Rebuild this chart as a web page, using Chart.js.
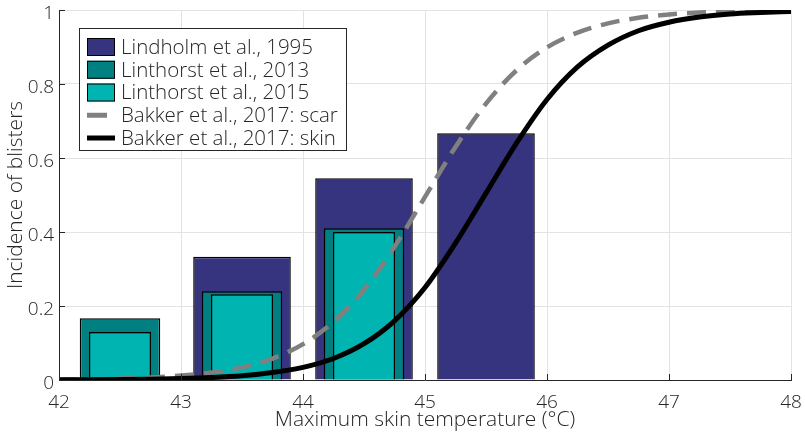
<!DOCTYPE html>
<html>
<head>
<meta charset="utf-8">
<script src="https://cdn.jsdelivr.net/npm/chart.js@4/dist/chart.umd.min.js"></script>
<style>
  html, body { margin: 0; padding: 0; background: #fff; }
  #wrap { width: 805px; height: 433px; }
</style>
</head>
<body>
<div id="wrap"><canvas id="blisterChart"></canvas></div>
<script>
// bins (centre of each 1 degree bin) and incidence per study
const binCentres = [42.5, 43.5, 44.5, 45.5];
const lindholm1995 = [null, 0.333, 0.545, 0.667];
const linthorst2013 = [0.167, 0.24, 0.41, null];
const linthorst2015 = [0.13, 0.232, 0.4, null];

const temps = [42, 42.25, 42.5, 42.75, 43, 43.25, 43.5, 43.75, 44, 44.25, 44.5, 44.75,
  45, 45.25, 45.5, 45.75, 46, 46.25, 46.5, 46.75, 47, 47.25, 47.5, 47.75, 48];
const scarCurve = [0.001, 0.002, 0.004, 0.007, 0.012, 0.02, 0.034, 0.058, 0.097, 0.157, 0.244, 0.36,
  0.495, 0.63, 0.747, 0.837, 0.899, 0.939, 0.964, 0.979, 0.988, 0.993, 0.996, 0.997, 0.998];
const skinCurve = [0.0004, 0.0007, 0.0012, 0.0021, 0.0038, 0.0066, 0.0114, 0.02, 0.034, 0.058, 0.098, 0.16,
  0.25, 0.37, 0.505, 0.64, 0.758, 0.846, 0.905, 0.944, 0.967, 0.981, 0.989, 0.993, 0.996];

const xTicks = [42, 43, 44, 45, 46, 47, 48];

(() => {
  'use strict'

  const ctx = document.getElementById('blisterChart')
  const fontFamily = "'Open Sans', 'Noto Sans', sans-serif"
  const textColor = '#262626'

  const pairs = (xs, ys) => xs.map((x, i) => ({ x: x, y: ys[i] }))

  // legend drawn in a box inside the plot area
  const boxLegend = {
    id: 'boxLegend',
    afterDraw(chart) {
      const c = chart.ctx
      const area = chart.chartArea
      const left = area.left + 20
      const top = area.top + 18
      const rowH = 22.75
      const w = 267
      const h = 122
      c.save()
      c.fillStyle = '#ffffff'
      c.fillRect(left, top, w, h)
      c.strokeStyle = textColor
      c.lineWidth = 1
      c.strokeRect(left + 0.5, top + 0.5, w, h)
      c.font = '300 20.5px ' + fontFamily
      c.textBaseline = 'middle'
      chart.data.datasets.forEach((ds, i) => {
        const cy = top + 19 + i * rowH
        const sx = left + 8
        if (ds.type === 'bar') {
          c.fillStyle = ds.backgroundColor
          c.fillRect(sx, cy - 9, 28, 18)
          c.strokeStyle = ds.borderColor
          c.lineWidth = 1
          c.strokeRect(sx + 0.5, cy - 8.5, 27, 17)
        } else {
          c.strokeStyle = ds.borderColor
          c.lineWidth = 5
          c.beginPath()
          c.moveTo(sx, cy)
          c.lineTo(sx + (ds.borderDash ? 20 : 28), cy)
          c.stroke()
        }
        c.fillStyle = textColor
        c.fillText(ds.label, left + 42, cy + 1)
      })
      c.restore()
    }
  }

  // short inward tick marks on the two axes
  const inwardTicks = {
    id: 'inwardTicks',
    afterDatasetsDraw(chart) {
      const c = chart.ctx
      const area = chart.chartArea
      const xs = chart.scales.x
      const ys = chart.scales.y
      c.save()
      c.strokeStyle = textColor
      c.lineWidth = 1
      c.beginPath()
      xs.ticks.forEach((t, i) => {
        const px = Math.round(xs.getPixelForTick(i)) + 0.5
        c.moveTo(px, area.bottom)
        c.lineTo(px, area.bottom - 6)
      })
      ys.ticks.forEach((t, i) => {
        const py = Math.round(ys.getPixelForTick(i)) + 0.5
        c.moveTo(area.left, py)
        c.lineTo(area.left + 6, py)
      })
      c.stroke()
      c.restore()
    }
  }

  // eslint-disable-next-line no-unused-vars
  const myChart = new Chart(ctx, {
    data: {
      datasets: [{
        type: 'bar',
        label: 'Lindholm et al., 1995',
        data: pairs(binCentres, lindholm1995),
        backgroundColor: '#36347f',
        borderColor: '#000000',
        borderWidth: 1.5,
        grouped: false,
        categoryPercentage: 1,
        barPercentage: 0.8,
        order: 4
      },
      {
        type: 'bar',
        label: 'Linthorst et al., 2013',
        data: pairs(binCentres, linthorst2013),
        backgroundColor: '#008080',
        borderColor: '#000000',
        borderWidth: 1.5,
        grouped: false,
        categoryPercentage: 1,
        barPercentage: 0.66,
        order: 3
      },
      {
        type: 'bar',
        label: 'Linthorst et al., 2015',
        data: pairs(binCentres, linthorst2015),
        backgroundColor: '#00b5b1',
        borderColor: '#000000',
        borderWidth: 1.5,
        grouped: false,
        categoryPercentage: 1,
        barPercentage: 0.51,
        order: 2
      },
      {
        type: 'line',
        label: 'Bakker et al., 2017: scar',
        data: pairs(temps, scarCurve),
        borderColor: '#808080',
        borderWidth: 4.5,
        borderDash: [19, 10],
        pointRadius: 0,
        cubicInterpolationMode: 'monotone',
        order: 1
      },
      {
        type: 'line',
        label: 'Bakker et al., 2017: skin',
        data: pairs(temps, skinCurve),
        borderColor: '#000000',
        borderWidth: 5,
        pointRadius: 0,
        cubicInterpolationMode: 'monotone',
        order: 0
      }
      ]
    },
    options: {
      responsive: true,
      maintainAspectRatio: false,
      animation: false,
      layout: {
        padding: { top: 10, right: 14, left: 0, bottom: 0 }
      },
      plugins: {
        legend: { display: false },
        tooltip: { enabled: false }
      },
      scales: {
        x: {
          type: 'linear',
          min: 42,
          max: 48,
          offset: false,
          afterBuildTicks: (scale) => { scale.ticks = xTicks.map(v => ({ value: v })) },
          afterFit: (scale) => {
            scale.height = 53
            scale.paddingLeft = 0
            scale.paddingRight = 0
          },
          grid: { color: '#e3e3e3', drawTicks: false, offset: false },
          border: { color: textColor },
          ticks: {
            color: textColor,
            padding: 11,
            font: { family: fontFamily, size: 19, weight: 300 }
          },
          title: {
            display: true,
            text: 'Maximum skin temperature (°C)',
            color: textColor,
            padding: { top: 0, bottom: 0 },
            font: { family: fontFamily, size: 21, weight: 300 }
          }
        },
        y: {
          min: 0,
          max: 1,
          afterFit: (scale) => {
            scale.width = 59
            scale.paddingTop = 0
            scale.paddingBottom = 0
          },
          grid: { color: '#e3e3e3', drawTicks: false },
          border: { color: textColor },
          ticks: {
            stepSize: 0.2,
            color: textColor,
            padding: 5,
            labelOffset: 4,
            callback: (v) => String(Number(v.toFixed(1))),
            font: { family: fontFamily, size: 19, weight: 300 }
          },
          title: {
            display: true,
            text: 'Incidence of blisters',
            color: textColor,
            padding: { top: 3, bottom: 0 },
            font: { family: fontFamily, size: 21, weight: 300 }
          }
        }
      }
    },
    plugins: [inwardTicks, boxLegend]
  })
})();
</script>
</body>
</html>
